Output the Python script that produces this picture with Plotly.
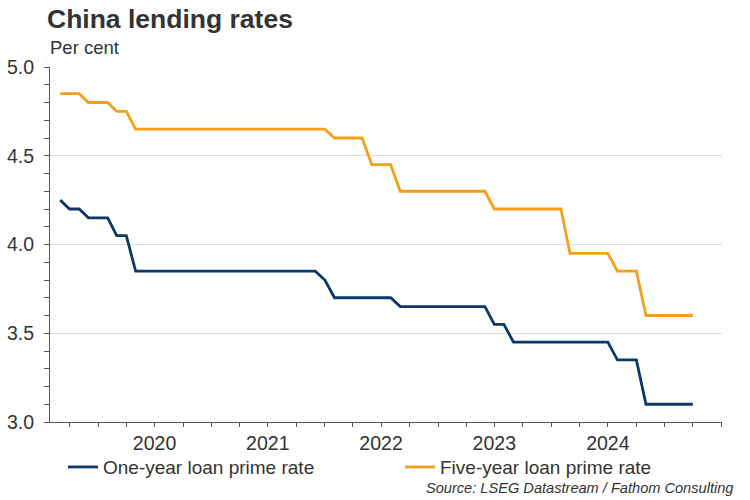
import plotly.graph_objects as go

# monthly LPR fixings (plotted at month end)
months = [
    "2019-08", "2019-09", "2019-10", "2019-11", "2019-12",
    "2020-01", "2020-02", "2020-03", "2020-04", "2020-05", "2020-06",
    "2020-07", "2020-08", "2020-09", "2020-10", "2020-11", "2020-12",
    "2021-01", "2021-02", "2021-03", "2021-04", "2021-05", "2021-06",
    "2021-07", "2021-08", "2021-09", "2021-10", "2021-11", "2021-12",
    "2022-01", "2022-02", "2022-03", "2022-04", "2022-05", "2022-06",
    "2022-07", "2022-08", "2022-09", "2022-10", "2022-11", "2022-12",
    "2023-01", "2023-02", "2023-03", "2023-04", "2023-05", "2023-06",
    "2023-07", "2023-08", "2023-09", "2023-10", "2023-11", "2023-12",
    "2024-01", "2024-02", "2024-03", "2024-04", "2024-05", "2024-06",
    "2024-07", "2024-08", "2024-09", "2024-10", "2024-11", "2024-12",
    "2025-01", "2025-02", "2025-03",
]

one_year = [
    4.25, 4.20, 4.20, 4.15, 4.15,
    4.15, 4.05, 4.05, 3.85, 3.85, 3.85, 3.85, 3.85, 3.85, 3.85, 3.85, 3.85,
    3.85, 3.85, 3.85, 3.85, 3.85, 3.85, 3.85, 3.85, 3.85, 3.85, 3.85, 3.80,
    3.70, 3.70, 3.70, 3.70, 3.70, 3.70, 3.70, 3.65, 3.65, 3.65, 3.65, 3.65,
    3.65, 3.65, 3.65, 3.65, 3.65, 3.55, 3.55, 3.45, 3.45, 3.45, 3.45, 3.45,
    3.45, 3.45, 3.45, 3.45, 3.45, 3.45, 3.35, 3.35, 3.35, 3.10, 3.10, 3.10,
    3.10, 3.10, 3.10,
]

five_year = [
    4.85, 4.85, 4.85, 4.80, 4.80,
    4.80, 4.75, 4.75, 4.65, 4.65, 4.65, 4.65, 4.65, 4.65, 4.65, 4.65, 4.65,
    4.65, 4.65, 4.65, 4.65, 4.65, 4.65, 4.65, 4.65, 4.65, 4.65, 4.65, 4.65,
    4.60, 4.60, 4.60, 4.60, 4.45, 4.45, 4.45, 4.30, 4.30, 4.30, 4.30, 4.30,
    4.30, 4.30, 4.30, 4.30, 4.30, 4.20, 4.20, 4.20, 4.20, 4.20, 4.20, 4.20,
    4.20, 3.95, 3.95, 3.95, 3.95, 3.95, 3.85, 3.85, 3.85, 3.60, 3.60, 3.60,
    3.60, 3.60, 3.60,
]

year_ticks = ["2020-07-01", "2021-07-01", "2022-07-01", "2023-07-01", "2024-07-01"]
year_labels = ["2020", "2021", "2022", "2023", "2024"]

navy = "#0b3866"
orange = "#f5a01a"
axis_col = "#555555"
text_col = "#333333"
font_name = "Liberation Sans"

fig = go.Figure()

fig.add_trace(go.Scatter(
    x=months, y=one_year, xperiod="M1", xperiodalignment="end",
    mode="lines", line=dict(color=navy, width=2.8),
    name="One-year loan prime rate", legend="legend",
))
fig.add_trace(go.Scatter(
    x=months, y=five_year, xperiod="M1", xperiodalignment="end",
    mode="lines", line=dict(color=orange, width=2.8),
    name="Five-year loan prime rate", legend="legend2",
))

legend_style = dict(
    orientation="h",
    xref="container",
    xanchor="left",
    y=-0.127, yanchor="middle",
    font=dict(size=19, color=text_col),
    bgcolor="rgba(0,0,0,0)",
)

fig.update_layout(
    width=750,
    height=500,
    margin=dict(l=50, r=28, t=67, b=78, autoexpand=False),
    plot_bgcolor="white",
    paper_bgcolor="white",
    font=dict(family=font_name, size=19, color=text_col),
    title=dict(
        text="<b>China lending rates</b>",
        x=47 / 750, xanchor="left", xref="container",
        y=1 - 19 / 500, yanchor="middle", yref="container",
        font=dict(size=26.5, color=text_col),
    ),
    showlegend=True,
    legend=dict(legend_style, x=63 / 750),
    legend2=dict(legend_style, x=400 / 750),
    xaxis=dict(
        type="date",
        automargin=False,
        range=["2019-07-30", "2025-07-04"],
        tickmode="array",
        tickvals=year_ticks,
        ticktext=year_labels,
        ticks="outside", ticklen=4, tickcolor=axis_col,
        showline=True, linecolor=axis_col, linewidth=1,
        showgrid=False, zeroline=False,
        minor=dict(
            ticks="outside", ticklen=4, tickcolor=axis_col,
            tickmode="linear", tick0="2019-10-01", dtick="M3",
            showgrid=False,
        ),
        tickfont=dict(size=19.5, color=text_col),
    ),
    yaxis=dict(
        automargin=False,
        range=[3.0, 5.0],
        dtick=0.5, tick0=3.0,
        tickformat=".1f",
        ticks="outside", ticklen=5, tickcolor=axis_col,
        ticklabelstandoff=6,
        showline=True, linecolor=axis_col, linewidth=1,
        showgrid=True, gridcolor="#dcdcdc", gridwidth=1,
        zeroline=False,
        minor=dict(
            ticks="outside", ticklen=5, tickcolor=axis_col,
            dtick=0.1, showgrid=False,
        ),
        tickfont=dict(size=19.5, color=text_col),
    ),
    annotations=[
        dict(
            text="Per cent", xref="paper", yref="paper",
            x=-0.003, y=1 + 20 / 355, xanchor="left", yanchor="middle",
            showarrow=False, font=dict(size=18.5, color=text_col),
        ),
        dict(
            text="<i>Source: LSEG Datastream / Fathom Consulting</i>",
            xref="paper", yref="paper",
            x=(735 - 50) / 672, y=(422 - 488) / 355,
            xanchor="right", yanchor="middle",
            showarrow=False, font=dict(size=14.6, color=text_col),
        ),
    ],
)

# the page's default body margin would shift the chart by 8px
fig.write_html(
    "out.html",
    config={"displayModeBar": False},
    post_script="document.body.style.margin = '0';",
)
